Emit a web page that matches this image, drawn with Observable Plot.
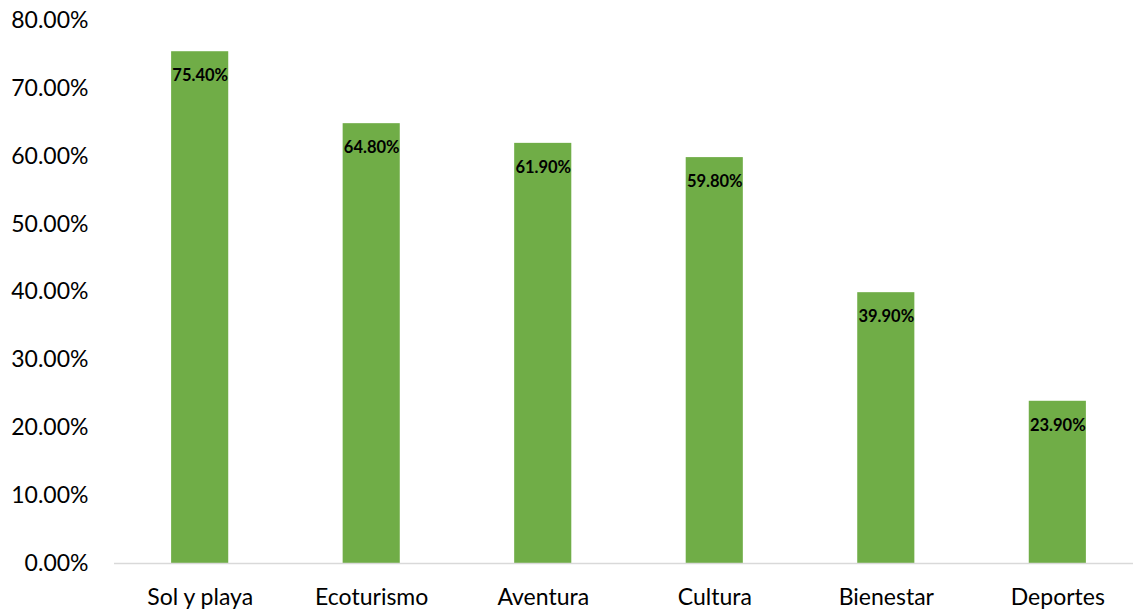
<!DOCTYPE html>
<html>
<head>
<meta charset="utf-8">
<script src="https://cdn.jsdelivr.net/npm/d3@7"></script>
<script src="https://cdn.jsdelivr.net/npm/@observablehq/plot@0.6"></script>
<style>
  html, body { margin: 0; padding: 0; background: #fff; overflow: hidden; }
  #chart svg { display: block; max-width: none !important; }
</style>
</head>
<body>
<div id="chart"></div>
<script>
const categories = ["Sol y playa", "Ecoturismo", "Aventura", "Cultura", "Bienestar", "Deportes"];
const values = [75.4, 64.8, 61.9, 59.8, 39.9, 23.9];
const yTicks = [0, 10, 20, 30, 40, 50, 60, 70, 80];

const data = categories.map((c, i) => ({category: c, value: values[i]}));
const fmt = v => v.toFixed(2) + "%";

const chart = Plot.plot({
  width: 1143,
  height: 612,
  marginTop: 20,
  marginBottom: 49,
  marginLeft: 114,
  marginRight: 0,
  style: {fontFamily: "Lato, 'Open Sans', sans-serif", fontSize: "23px", color: "#000", background: "#fff"},
  x: {domain: categories, paddingInner: 0.667, paddingOuter: 0.333, round: false, label: null, tickSize: 0, tickPadding: 25},
  y: {domain: [0, 80], ticks: yTicks, tickFormat: fmt, label: null, tickSize: 0, tickPadding: 26},
  marks: [
    Plot.barY(data, {x: "category", y: "value", fill: "#70AD47"}),
    Plot.ruleY([0], {stroke: "#d9d9d9", strokeWidth: 1.5}),
    Plot.text(data, {x: "category", y: "value", text: d => fmt(d.value), dy: 24, fontSize: 16.5, fontWeight: "bold", fill: "#000"})
  ]
});
document.getElementById("chart").appendChild(chart);
</script>
</body>
</html>
